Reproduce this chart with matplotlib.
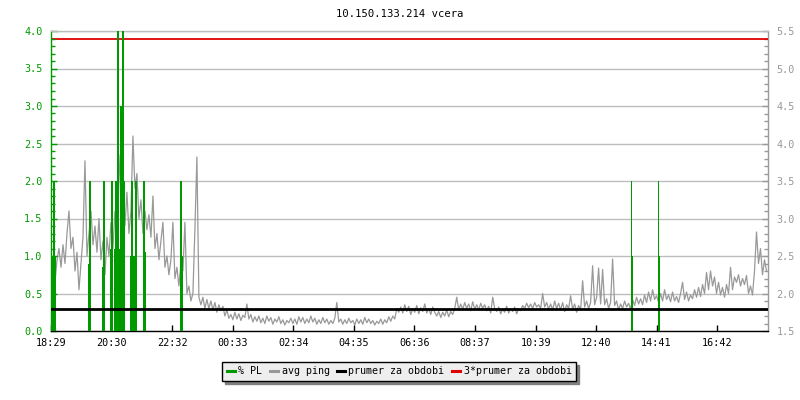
import numpy as np
import matplotlib
matplotlib.use("Agg")
import matplotlib.pyplot as plt
from matplotlib.lines import Line2D

# -- data --------------------------------------------------------------------

title = "10.150.133.214 vcera"
start_label = "18:29"
tick_labels = ["18:29", "20:30", "22:32", "00:33", "02:34", "04:35",
               "06:36", "08:37", "10:39", "12:40", "14:41", "16:42"]
span_min = 1435        # minutes shown on the x axis
ping_step = 4          # minutes between avg ping samples
pl_step = 2            # minutes per packet loss sample

# avg ping [ms], right axis, one value every 4 minutes from 18:29
ping = [
    # 18:29 - 20:27
    2.05, 2.25, 2.15, 2.45, 2.6, 2.35, 2.65, 2.4, 2.8, 3.1,
    2.6, 2.75, 2.3, 2.55, 2.05, 2.4, 2.75, 3.77, 2.5, 2.8,
    3.1, 2.65, 2.9, 2.55, 3.0, 2.45, 2.7, 2.25, 2.75, 2.5,
    # 20:29 - 22:49
    2.95, 2.6, 3.1, 2.8, 3.85, 3.2, 3.5, 2.9, 3.35, 2.8,
    3.1, 4.1, 3.4, 3.6, 3.0, 3.25, 2.8, 3.1, 2.85, 3.05,
    2.75, 3.3, 2.6, 2.8, 2.45, 2.7, 2.95, 2.35, 2.5, 2.25,
    2.45, 2.95, 2.2, 2.35, 2.1, 2.4,
    # 22:53 - 00:25
    2.3, 2.95, 2.0, 2.1, 1.9, 2.0, 2.85, 3.82, 1.95, 1.85,
    1.95, 1.8, 1.92, 1.8, 1.9, 1.78, 1.88, 1.75, 1.85, 1.77,
    1.83, 1.7, 1.78, 1.67,
    # 00:29 - 06:05
    1.72, 1.65, 1.75, 1.66, 1.73, 1.64, 1.71, 1.68, 1.86, 1.66,
    1.72, 1.62, 1.69, 1.63, 1.7, 1.61, 1.67, 1.6, 1.7, 1.63,
    1.68, 1.59, 1.66, 1.62, 1.69, 1.6, 1.65, 1.58, 1.64, 1.61,
    1.67, 1.6, 1.66, 1.59, 1.69, 1.62, 1.68, 1.6, 1.66, 1.61,
    1.7, 1.62, 1.67, 1.59, 1.65, 1.6, 1.68, 1.61, 1.66, 1.59,
    1.64, 1.6, 1.67, 1.88, 1.62, 1.66, 1.59, 1.65, 1.6, 1.67,
    1.61, 1.64, 1.58, 1.66, 1.6, 1.65, 1.59, 1.68, 1.61, 1.66,
    1.6, 1.64, 1.58, 1.63, 1.6, 1.66, 1.59, 1.65, 1.61, 1.69,
    1.63, 1.7, 1.66, 1.8, 1.75,
    # 06:09 - 11:25
    1.82, 1.74, 1.85, 1.76, 1.83, 1.72, 1.8, 1.75, 1.84, 1.73,
    1.81, 1.76, 1.86, 1.74, 1.8, 1.72, 1.82, 1.75, 1.7, 1.76,
    1.68, 1.75, 1.7, 1.78, 1.69, 1.76, 1.72, 1.8, 1.95, 1.78,
    1.86, 1.79, 1.88, 1.8, 1.86, 1.77, 1.89, 1.79, 1.85, 1.78,
    1.87, 1.8, 1.85, 1.77, 1.83, 1.74, 1.95, 1.8, 1.76, 1.82,
    1.73, 1.79, 1.75, 1.83, 1.74, 1.8, 1.76, 1.82, 1.73, 1.79,
    1.77, 1.84, 1.8, 1.87, 1.81, 1.86, 1.8, 1.88, 1.82, 1.85,
    1.8, 2.0, 1.82, 1.88, 1.79, 1.86, 1.78, 1.9, 1.8, 1.87,
    # 11:29 - 18:21
    1.78, 1.88, 1.76, 1.85, 1.8, 1.97, 1.79, 1.86, 1.75, 1.84,
    1.78, 2.17, 1.82, 1.9, 1.8, 1.88, 2.37, 1.85, 1.95, 2.34,
    1.86, 2.32, 1.85, 1.93, 1.8, 1.88, 2.46, 1.84, 1.9, 1.78,
    1.86, 1.8, 1.9, 1.82, 1.87, 1.79, 1.92, 1.84, 1.95, 1.86,
    1.93, 1.85, 1.98, 1.88, 2.02, 1.9, 2.05, 1.92, 1.97, 1.88,
    2.0, 1.9, 2.05, 1.92, 1.98, 1.89, 2.02, 1.9, 1.96, 1.88,
    2.0, 2.15, 1.92, 2.02, 1.9, 1.98, 1.93, 2.05, 1.95, 2.08,
    1.96, 2.12, 2.0, 2.28, 2.05, 2.3, 2.1, 2.22, 2.0, 2.15,
    1.98, 2.08, 1.95, 2.12, 2.0, 2.35, 2.05, 2.22, 2.15, 2.25,
    2.1, 2.2, 2.12, 2.24, 2.0, 2.1, 1.98, 2.3, 2.82, 2.4,
    2.6, 2.25, 2.45, 2.3,
]

# packet loss [%], left axis: (minutes after 18:29, value), zero elsewhere
pl_time = [2, 4, 6, 8,
           76, 78,
           104, 106,
           120, 122,
           128, 130, 132, 134,
           138, 140, 142, 144, 146,
           160, 162, 164, 166, 168, 170,
           186, 188,
           260, 262,
           1162, 1164,
           1216, 1218]
pl_value = [0.75, 1.0, 2.0, 1.0,
            0.9, 2.0,
            0.85, 2.0,
            1.1, 2.0,
            1.1, 2.0, 1.1, 4.0,
            1.1, 3.0, 3.0, 4.0, 2.0,
            1.0, 2.0, 1.0, 1.0, 1.0, 2.0,
            2.0, 1.05,
            2.0, 1.0,
            2.0, 1.0,
            2.0, 1.0]

mean_ping = 1.8        # prumer za obdobi [ms]
pl_range = (0.0, 4.0)
ping_range = (1.5, 5.5)

legend_labels = ["% PL", "avg ping", "prumer za obdobi", "3*prumer za obdobi"]

# -- styling --------------------------------------------------------------------

GREEN = "#009900"
GREY = "#999999"
GRID = "#bdbdbd"
RED = "#e00000"
MONO = "DejaVu Sans Mono"


def minutes_after_start(label):
    h, m = map(int, label.split(":"))
    h0, m0 = map(int, start_label.split(":"))
    return (h * 60 + m - (h0 * 60 + m0)) % 1440


fig = plt.figure(figsize=(8, 4), dpi=100)
ax = fig.add_axes([51 / 800, 69 / 400, 717 / 800, 300 / 400])
ax2 = ax.twinx()
# left axis (PL, mean lines) on top of the ping line
ax.set_zorder(ax2.get_zorder() + 1)
ax.patch.set_visible(False)

t_ping = np.arange(len(ping)) * ping_step
ax2.plot(t_ping, ping, color=GREY, lw=0.9, zorder=2)
ax2.set_ylim(*ping_range)
ax2.grid(axis="y", color=GRID, lw=1.0)
ax2.set_axisbelow(True)

ax.bar(pl_time, pl_value, width=pl_step * 1.3, color=GREEN, linewidth=0,
       zorder=3)
ax.axhline(mean_ping - ping_range[0], color="black", lw=2.0, zorder=4)
ax2.axhline(3 * mean_ping, color=RED, lw=1.3, zorder=4)
ax.set_ylim(*pl_range)
ax.set_xlim(0, span_min)

# ticks
ax.set_xticks([minutes_after_start(s) for s in tick_labels])
ax.set_xticklabels(tick_labels)
ax.set_yticks(np.arange(0, 4.01, 0.5))
ax.set_yticks(np.arange(0, 4.01, 0.1), minor=True)
ax.yaxis.set_major_formatter(matplotlib.ticker.FormatStrFormatter("%.1f"))
ax2.set_yticks(np.arange(1.5, 5.51, 0.5))
ax2.set_yticks(np.arange(1.5, 5.51, 0.1), minor=True)
ax2.yaxis.set_major_formatter(matplotlib.ticker.FormatStrFormatter("%.1f"))

ax.tick_params(axis="x", direction="in", length=4, width=1, colors="black",
               labelsize=7.3, pad=5)
ax.tick_params(axis="y", which="major", direction="in", length=4, width=1,
               colors=GREEN, labelsize=7.3, pad=6)
ax.tick_params(axis="y", which="minor", direction="in", length=3, width=1,
               colors=GREEN)
ax2.tick_params(axis="y", which="major", direction="in", length=4, width=1,
                colors=GREY, labelsize=7.3, pad=6)
ax2.tick_params(axis="y", which="minor", direction="in", length=3, width=1,
                colors=GREY)
for lab in ax.get_xticklabels() + ax.get_yticklabels() + ax2.get_yticklabels():
    lab.set_family(MONO)

for a in (ax, ax2):
    for s in a.spines.values():
        s.set_linewidth(1.0)
ax.spines["left"].set_color(GREEN)
ax.spines["bottom"].set_color("black")
ax.spines["top"].set_color(GRID)
ax.spines["right"].set_visible(False)
ax2.spines["right"].set_color(GREY)
ax2.spines["left"].set_visible(False)
ax2.spines["top"].set_visible(False)
ax2.spines["bottom"].set_visible(False)

fig.text(0.5, 1 - 14 / 400, title, ha="center", va="center",
         family=MONO, fontsize=7.6)

handles = [Line2D([], [], color=c, lw=2.2) for c in (GREEN, GREY, "black", RED)]
leg = fig.legend(handles, legend_labels, loc="center", ncol=4,
                 bbox_to_anchor=(399 / 800, 1 - 371.5 / 400),
                 prop={"family": MONO, "size": 7.2},
                 handlelength=0.8, handletextpad=0.4, columnspacing=0.7,
                 borderpad=0.45, fancybox=False, framealpha=1,
                 shadow={"color": "#808080", "alpha": 1})
leg.get_frame().set_edgecolor("black")
leg.get_frame().set_facecolor("#eeeeee")
leg.get_frame().set_linewidth(1.0)

fig.savefig("out.png", dpi=100)
